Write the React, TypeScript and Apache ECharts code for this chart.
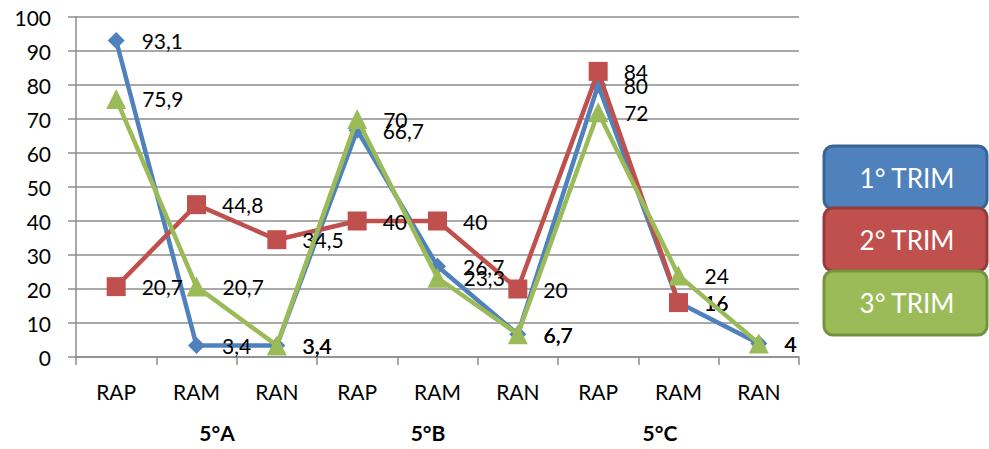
import React, { useEffect, useRef } from "react";
import * as echarts from "echarts";

const categories = ["RAP", "RAM", "RAN", "RAP", "RAM", "RAN", "RAP", "RAM", "RAN"];
const groups = ["5°A", "5°B", "5°C"];
const seriesNames = ["1° TRIM", "2° TRIM", "3° TRIM"];
const trim1 = [93.1, 3.4, 3.4, 66.7, 26.7, 6.7, 80, 16, 4];
const trim2 = [20.7, 44.8, 34.5, 40, 40, 20, 84, 16, null];
const trim3 = [75.9, 20.7, 3.4, 70, 23.3, 6.7, 72, 24, 4];
const yTicks = { min: 0, max: 100, interval: 10 };

const FONT = "Lato, 'Open Sans', sans-serif";
const colors = ["#4F81BD", "#C0504D", "#9BBB59"];
const borders = ["#3A6496", "#943C39", "#76923F"];

export default function App() {
  const ref = useRef<HTMLDivElement>(null);
  useEffect(() => {
    document.body.style.margin = "0";
    const chart = echarts.init(ref.current!, null, { renderer: "svg" });
    const fmt = (p: any) => String(p.value).replace(".", ",");
    const mkSeries = (name: string, data: any[], i: number, symbol: string, size: number, dist: number) => ({
      name,
      type: "line",
      data,
      symbol,
      symbolSize: size,
      lineStyle: { width: 4.5, color: colors[i] },
      itemStyle: { color: colors[i] },
      label: {
        show: true,
        position: "right",
        distance: dist,
        formatter: fmt,
        color: "#000",
        fontSize: 21,
        fontFamily: FONT,
      },
      z: 2 + i,
    });
    const legendBoxes: any[] = [];
    const boxes = [
      { y: 146, h: 63 },
      { y: 208, h: 63 },
      { y: 271, h: 64 },
    ];
    boxes.forEach((b, i) => {
      legendBoxes.push({
        type: "rect",
        shape: { x: 824, y: b.y, width: 163, height: b.h, r: 9 },
        style: { fill: colors[i], stroke: borders[i], lineWidth: 3 },
        z: 10 + i,
      });
      legendBoxes.push({
        type: "text",
        x: 907,
        y: b.y + b.h / 2,
        style: {
          text: seriesNames[i],
          fill: "#fff",
          font: `26px ${FONT}`,
          textAlign: "center",
          textVerticalAlign: "middle",
        },
        z: 20 + i,
      });
    });
    const groupX = [217, 428, 660];
    const groupTexts = groups.map((g, i) => ({
      type: "text",
      x: groupX[i],
      y: 432,
      style: {
        text: g,
        fill: "#000",
        font: `bold 21px ${FONT}`,
        textAlign: "center",
        textVerticalAlign: "middle",
      },
    }));
    chart.setOption({
      animation: false,
      grid: { left: 76, right: 190, top: 17, bottom: 92, containLabel: false },
      xAxis: {
        type: "category",
        data: categories,
        boundaryGap: true,
        axisLine: { lineStyle: { color: "#8c8c8c", width: 1.5 } },
        axisTick: { show: true, length: 8, lineStyle: { color: "#8c8c8c", width: 1.5 } },
        axisLabel: { color: "#000", fontSize: 21, fontFamily: FONT, margin: 24, interval: 0 },
      },
      yAxis: {
        type: "value",
        min: yTicks.min,
        max: yTicks.max,
        interval: yTicks.interval,
        axisLine: { show: true, lineStyle: { color: "#8c8c8c", width: 1.5 } },
        axisTick: { show: true, length: 8, lineStyle: { color: "#8c8c8c", width: 1.5 } },
        axisLabel: { color: "#000", fontSize: 21, fontFamily: FONT, margin: 25 },
        splitLine: { show: true, lineStyle: { color: "#8c8c8c", width: 1.5 } },
      },
      series: [
        mkSeries(seriesNames[0], trim1, 0, "diamond", 17, 17),
        mkSeries(seriesNames[1], trim2, 1, "rect", 19, 16),
        mkSeries(seriesNames[2], trim3, 2, "triangle", 20, 16),
      ],
      graphic: [...legendBoxes, ...groupTexts],
    });
    return () => chart.dispose();
  }, []);
  return <div ref={ref} style={{ width: 989, height: 449 }} />;
}
